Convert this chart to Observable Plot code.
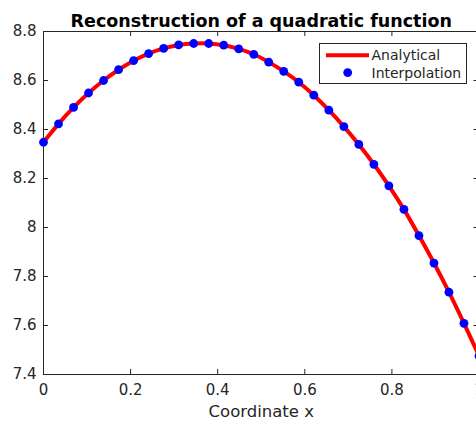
<!DOCTYPE html>
<html>
<head>
<meta charset="utf-8">
<script src="https://cdn.jsdelivr.net/npm/d3@7"></script>
<script src="https://cdn.jsdelivr.net/npm/@observablehq/plot@0.6"></script>
<style>
  html, body { margin: 0; padding: 0; background: #fff; }
  #chart { width: 476px; height: 421px; overflow: hidden; }
</style>
</head>
<body>
<div id="chart"></div>
<script>
const title = "Reconstruction of a quadratic function";
const xLabel = "Coordinate x";
const seriesNames = ["Analytical", "Interpolation"];
// 30 sample coordinates (i/29)
const xs = [0, 0.0345, 0.069, 0.1034, 0.1379, 0.1724, 0.2069, 0.2414, 0.2759, 0.3103,
            0.3448, 0.3793, 0.4138, 0.4483, 0.4828, 0.5172, 0.5517, 0.5862, 0.6207, 0.6552,
            0.6897, 0.7241, 0.7586, 0.7931, 0.8276, 0.8621, 0.8966, 0.931, 0.9655, 1];
const ys = [8.348, 8.423, 8.490, 8.549, 8.600, 8.644, 8.681, 8.710, 8.731, 8.745,
            8.751, 8.751, 8.744, 8.729, 8.707, 8.675, 8.637, 8.593, 8.540, 8.479,
            8.412, 8.339, 8.258, 8.170, 8.074, 7.967, 7.855, 7.736, 7.609, 7.476];
const xTicks = [0, 0.2, 0.4, 0.6, 0.8, 1];
const yTicks = [7.4, 7.6, 7.8, 8, 8.2, 8.4, 8.6, 8.8];

const data = xs.map((x, i) => ({x, y: ys[i]}));

const W = 476, H = 421;
const mL = 43, mR = -2.5, mT = 31, mB = 47;
const fw = W - mL - mR, fh = H - mT - mB;
const axisColor = "#262626";
const fmt = d => String(+d.toFixed(1));

const plot = Plot.plot({
  width: W,
  height: H,
  marginLeft: mL,
  marginRight: mR,
  marginTop: mT,
  marginBottom: mB,
  style: {fontFamily: "DejaVu Sans", fontSize: "15px", color: axisColor, background: "#fff", overflow: "visible"},
  x: {domain: [0, 1]},
  y: {domain: [7.4, 8.8]},
  marks: [
    Plot.frame({stroke: axisColor, strokeWidth: 1}),
    Plot.axisX(xTicks, {tickSize: 0, tickPadding: 10, tickFormat: fmt, label: null, fill: axisColor}),
    Plot.axisY(yTicks, {tickSize: 0, tickPadding: 7, tickFormat: fmt, label: null, fill: axisColor}),
    Plot.tickX(xTicks, {x: d => d, insetTop: fh - 5, stroke: axisColor}),
    Plot.tickX(xTicks, {x: d => d, insetBottom: fh - 5, stroke: axisColor}),
    Plot.tickY(yTicks, {y: d => d, insetRight: fw - 5, stroke: axisColor}),
    Plot.tickY(yTicks, {y: d => d, insetLeft: fw - 5, stroke: axisColor}),
    Plot.line(data, {x: "x", y: "y", stroke: "#ff0000", strokeWidth: 4, curve: "catmull-rom"}),
    Plot.dot(data, {x: "x", y: "y", r: 4.4, fill: "#0000ff", stroke: "none"}),
    Plot.text([title], {frameAnchor: "top", lineAnchor: "bottom", dy: -5, fontSize: 17.5, fontWeight: "bold", fill: "#000"}),
    Plot.text([xLabel], {frameAnchor: "bottom", lineAnchor: "bottom", dy: 42.5, fontSize: 16.5, fill: axisColor})
  ]
});

document.getElementById("chart").appendChild(plot);

// legend box
const svg = d3.select(plot);
const lg = svg.append("g").attr("font-family", "DejaVu Sans").attr("font-size", 14).attr("text-anchor", "start");
lg.append("rect").attr("x", 319.5).attr("y", 43.5).attr("width", 147).attr("height", 40)
  .attr("fill", "#fff").attr("stroke", axisColor).attr("stroke-width", 1);
lg.append("line").attr("x1", 326).attr("x2", 369).attr("y1", 55.3).attr("y2", 55.3)
  .attr("stroke", "#ff0000").attr("stroke-width", 4);
lg.append("text").attr("x", 371.5).attr("y", 60).attr("fill", axisColor).text(seriesNames[0]);
lg.append("circle").attr("cx", 347.7).attr("cy", 72.6).attr("r", 4.4).attr("fill", "#0000ff");
lg.append("text").attr("x", 371.5).attr("y", 77.7).attr("fill", axisColor).text(seriesNames[1]);
</script>
</body>
</html>
